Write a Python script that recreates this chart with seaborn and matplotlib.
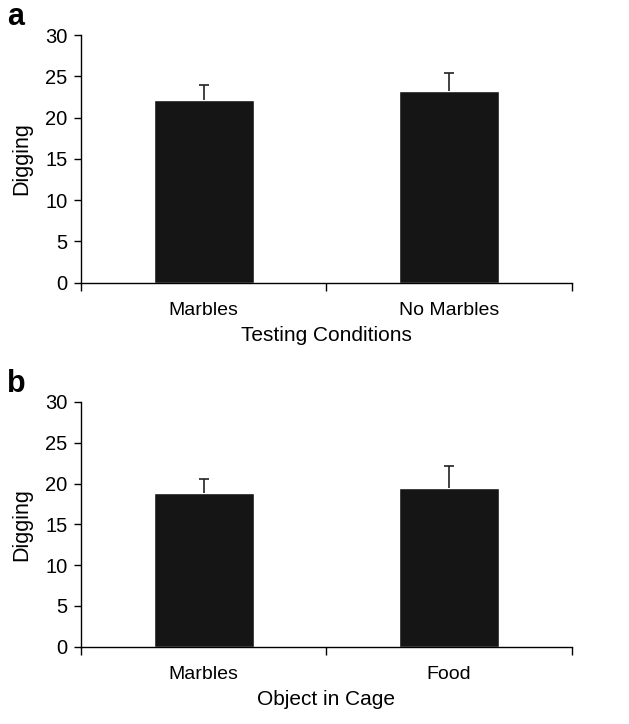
import pandas as pd
import matplotlib.pyplot as plt
import seaborn as sns

# Values
cond_a = ['Marbles', 'No Marbles']
dig_a = [22.1, 23.2]
err_a = [1.8, 2.2]

cond_b = ['Marbles', 'Food']
dig_b = [18.9, 19.5]
err_b = [1.6, 2.6]

sns.set_style('white')
plt.rcParams['font.family'] = ['Liberation Sans', 'DejaVu Sans']
plt.rcParams['text.color'] = 'black'
plt.rcParams['axes.labelcolor'] = 'black'
plt.rcParams['xtick.color'] = 'black'
plt.rcParams['ytick.color'] = 'black'

fig = plt.figure(figsize=(6.29, 7.24), dpi=100)
ax_a = fig.add_axes([0.129, 0.6095, 0.780, 0.342])
ax_b = fig.add_axes([0.129, 0.1068, 0.780, 0.338])


def panel(ax, cats, vals, errs, xlabel):
    df = pd.DataFrame({'cond': cats, 'digging': vals})
    sns.barplot(data=df, x='cond', y='digging', color='#151515', width=0.41,
                saturation=1, ax=ax, errorbar=None)
    # upward-only error bars with a cap
    pos = list(range(len(cats)))
    tops = [v + e for v, e in zip(vals, errs)]
    ax.vlines(pos, vals, tops, color='#222222', linewidth=1.2, zorder=1)
    ax.hlines(tops, [p - 0.02 for p in pos], [p + 0.02 for p in pos],
              color='#222222', linewidth=1.2, zorder=1)
    ax.set_xlim(-0.5, len(cats) - 0.5)
    ax.set_ylim(0, 30)
    ax.set_yticks(range(0, 31, 5))
    # ticks on category boundaries, labels under the bars
    ax.set_xticks([i - 0.5 for i in range(len(cats) + 1)])
    ax.set_xticklabels([])
    ax.set_xticks(pos, minor=True)
    ax.set_xticklabels(cats, minor=True, fontsize=14)
    ax.tick_params(axis='x', which='minor', bottom=True, length=0, pad=14)
    ax.tick_params(axis='x', which='major', bottom=True, length=6, width=1, direction='out')
    ax.tick_params(axis='y', left=True, length=5, width=1, direction='out', labelsize=14.5, pad=5)
    for s in ['top', 'right']:
        ax.spines[s].set_visible(False)
    for s in ['left', 'bottom']:
        ax.spines[s].set_color('black')
        ax.spines[s].set_linewidth(1)
    ax.set_xlabel(xlabel, fontsize=15, labelpad=5)
    ax.set_ylabel('Digging', fontsize=15.5, labelpad=9)


panel(ax_a, cond_a, dig_a, err_a, 'Testing Conditions')
panel(ax_b, cond_b, dig_b, err_b, 'Object in Cage')

fig.text(0.011, 1 - 25 / 724, 'a', fontsize=22, fontweight='bold', va='baseline')
fig.text(0.011, 1 - 392 / 724, 'b', fontsize=22, fontweight='bold', va='baseline')

fig.savefig('out.png', dpi=100)
